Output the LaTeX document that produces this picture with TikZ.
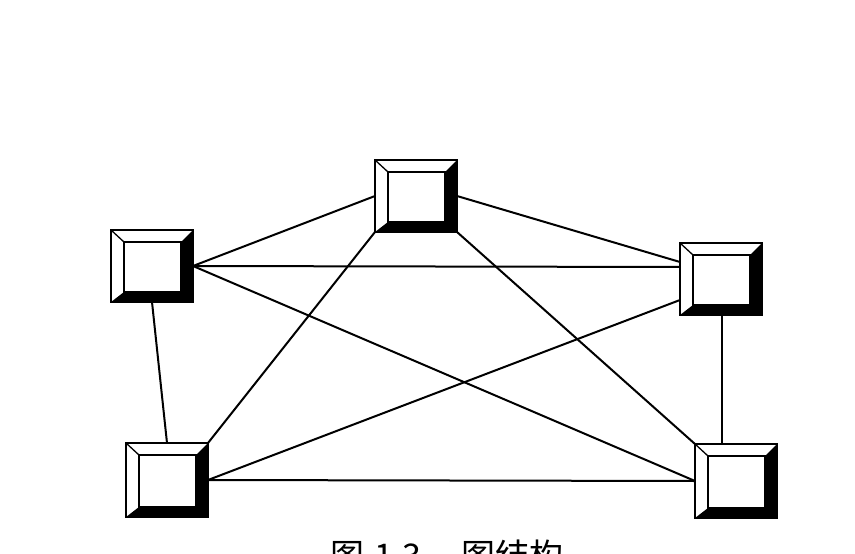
\documentclass[tikz,border=0pt]{standalone}
\usepackage{fontspec}
\newfontfamily\cjk{Noto Sans CJK SC}
\usetikzlibrary{calc}
\tikzset{
  host/.style={draw, line width=2pt, minimum width=82pt, minimum height=72pt, inner sep=0pt, outer sep=0pt,
    path picture={
      \coordinate (nw) at (path picture bounding box.north west);
      \coordinate (ne) at (path picture bounding box.north east);
      \coordinate (sw) at (path picture bounding box.south west);
      \coordinate (se) at (path picture bounding box.south east);
      \fill (ne) -- (se) -- (sw) -- ($(sw)+(13pt,10pt)$) -- ($(se)+(-12pt,10pt)$) -- ($(ne)+(-12pt,-12pt)$) -- cycle;
      \draw[line width=1.3pt] ($(sw)+(13pt,10pt)$) rectangle ($(ne)+(-12pt,-12pt)$);
      \draw[line width=1.3pt] (nw) -- ($(nw)+(13pt,-12pt)$);
    }},
  link/.style={line width=2pt}
}
\begin{document}
\begin{tikzpicture}[x=1pt,y=-1pt]
\useasboundingbox (0,0) rectangle (855,554);
% hosts
\node[host] (T) at (416,196) {};
\node[host] (L) at (152,266) {};
\node[host] (R) at (721,279) {};
\node[host, minimum height=74pt] (BL) at (167,480) {};
\node[host, minimum height=74pt] (BR) at (736,481) {};
% links
\draw[link] (L.east) -- (T.west);
\draw[link] (L.east) -- ([yshift=12pt]R.west);
\draw[link] (L.east) -- (BR.west);
\draw[link] (L.south) -- (BL.north);
\draw[link] (T.south west) -- (BL.north east);
\draw[link] (T.south east) -- (BR.north west);
\draw[link] (T.east) -- ([yshift=17pt]R.west);
\draw[link] ([yshift=-21pt]R.west) -- (BL.east);
\draw[link] ([xshift=1pt]R.south) -- ([xshift=1pt]R.south |- BR.north);
\draw[link] (BL.east) -- (BR.west);
% caption
\node[anchor=north, inner sep=0pt, font=\cjk\fontsize{34}{40}\selectfont] (cap) at (447,540) {图\hspace{10pt}1.3\hspace{40pt}图结构};
\end{tikzpicture}
\end{document}
